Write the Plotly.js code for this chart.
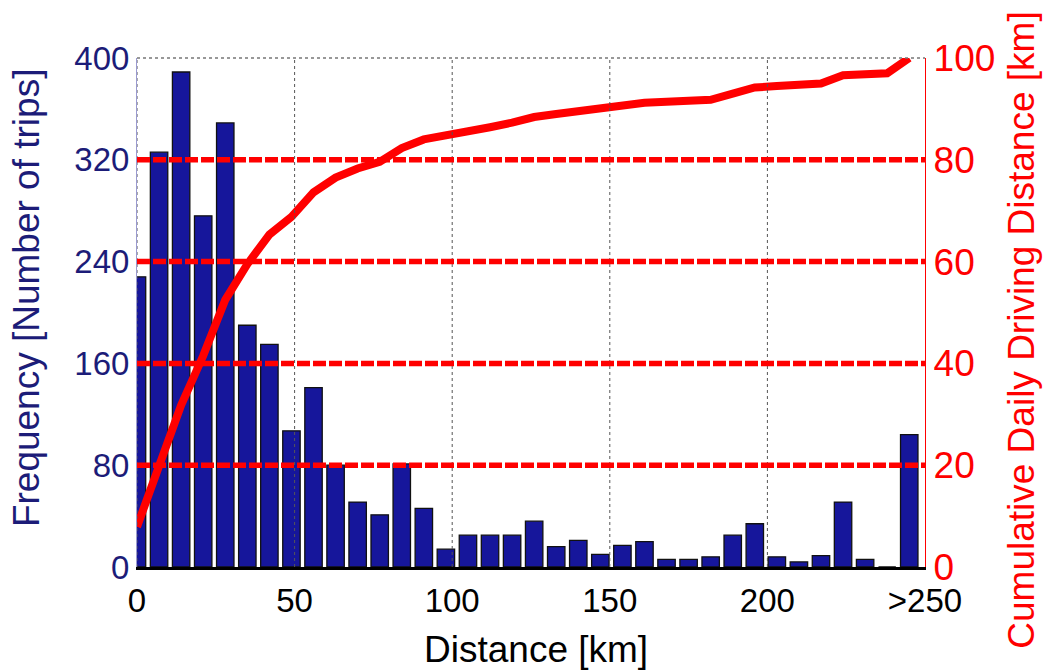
<!DOCTYPE html>
<html>
<head>
<meta charset="utf-8">
<script src="https://cdn.plot.ly/plotly-3.0.1.min.js"></script>
<style>html,body{margin:0;padding:0;background:#fff;}#chart{width:1044px;height:670px;}</style>
</head>
<body>
<div id="chart"></div>
<script>
// Bin centres (km); the last bin stands for ">250"
const distanceKm = [0,7,14,21,28,35,42,49,56,63,70,77,84,91,98,105,112,119,126,133,140,147,154,161,168,175,182,189,196,203,210,217,224,231,238,245];
// Frequency [Number of trips]
const frequency = [228,326,389,276,349,190,175,107,141,80,51,41,81,46,14,25,25,25,36,16,21,10,17,20,6,6,8,25,34,8,4,9,51,6,0,104];
// Cumulative daily driving distance (right axis, 0-100)
const cumulative = [7.9,19.8,31.8,41.5,52.5,59.5,65.3,68.8,73.6,76.5,78.3,79.6,82.3,84.0,84.7,85.6,86.4,87.3,88.4,89.0,89.6,90.0,90.6,91.2,91.4,91.6,91.8,93.0,94.2,94.5,94.7,95.0,96.6,96.9,97.0,100];

const xTickVals = [0,50,100,150,200,250];
const xTickText = ['0','50','100','150','200','>250'];
const yLeftTicks = [0,80,160,240,320,400];
const yRightTicks = [0,20,40,60,80,100];

const navy = '#1c1c78';
const barFill = '#16169b';
const red = '#ff0000';
const font = 'Arial, "Liberation Sans", sans-serif';

const traces = [
  {
    type: 'bar', x: distanceKm, y: frequency, xaxis: 'x', yaxis: 'y',
    marker: {color: barFill, line: {color: '#111', width: 1.3}},
    hoverinfo: 'skip'
  },
  {
    type: 'scatter', mode: 'lines', x: distanceKm, y: cumulative, xaxis: 'x', yaxis: 'y2',
    line: {color: red, width: 8}, hoverinfo: 'skip'
  }
];

// grid drawn on top of the bars, as in the reference
const shapes = [];
xTickVals.filter(v => v < 250).forEach(v => shapes.push({
  type: 'line', xref: 'x', yref: 'paper', x0: v, x1: v, y0: 0, y1: 1, layer: 'above',
  line: {color: '#555', width: 1, dash: 'dot'}
}));
yRightTicks.filter(v => v > 0 && v < 100).forEach(v => shapes.push({
  type: 'line', xref: 'paper', yref: 'y2', x0: 0, x1: 1, y0: v, y1: v, layer: 'above',
  line: {color: red, width: 5.5, dash: '13px,3px'}
}));
// dotted top border
shapes.push({type: 'line', xref: 'paper', yref: 'paper', x0: 0, x1: 1, y0: 1, y1: 1, layer: 'above',
  line: {color: '#777', width: 1.5, dash: 'dot'}});

const annotations = [
  {text: 'Frequency [Number of trips]', xref: 'paper', yref: 'paper', x: -0.141, y: 0.53,
   xanchor: 'center', yanchor: 'middle', textangle: -90, showarrow: false,
   font: {size: 37, color: navy, family: font}},
  {text: 'Cumulative Daily Driving Distance [km]', xref: 'paper', yref: 'paper', x: 1.123, y: 0.466,
   xanchor: 'center', yanchor: 'middle', textangle: -90, showarrow: false,
   font: {size: 37, color: red, family: font}},
  {text: 'Distance [km]', xref: 'paper', yref: 'paper', x: 0.506, y: -0.163,
   xanchor: 'center', yanchor: 'middle', showarrow: false,
   font: {size: 37, color: '#000', family: font}}
];

const layout = {
  width: 1044, height: 670,
  margin: {l: 137, r: 119, t: 58, b: 103},
  paper_bgcolor: '#fff', plot_bgcolor: '#fff',
  showlegend: false,
  bargap: 0.21,
  font: {family: font},
  xaxis: {
    range: [0, 250], tickvals: xTickVals, ticktext: xTickText,
    showgrid: false, zeroline: false,
    showline: true, linecolor: '#000', linewidth: 2.5,
    ticks: '', ticklabelstandoff: 3, tickfont: {size: 33, color: '#000', family: font}
  },
  yaxis: {
    range: [0, 400], tickvals: yLeftTicks,
    showgrid: false, zeroline: false,
    showline: true, linecolor: '#9a9ad0', linewidth: 1,
    ticks: '', tickfont: {size: 33, color: navy, family: font}
  },
  yaxis2: {
    overlaying: 'y', side: 'right', range: [0, 100], tickvals: yRightTicks,
    showgrid: false, zeroline: false,
    showline: true, linecolor: red, linewidth: 1.2,
    ticks: '', tickfont: {size: 37, color: red, family: font}
  },
  shapes: shapes,
  annotations: annotations
};

Plotly.newPlot('chart', traces, layout, {displayModeBar: false, staticPlot: true});
</script>
</body>
</html>
